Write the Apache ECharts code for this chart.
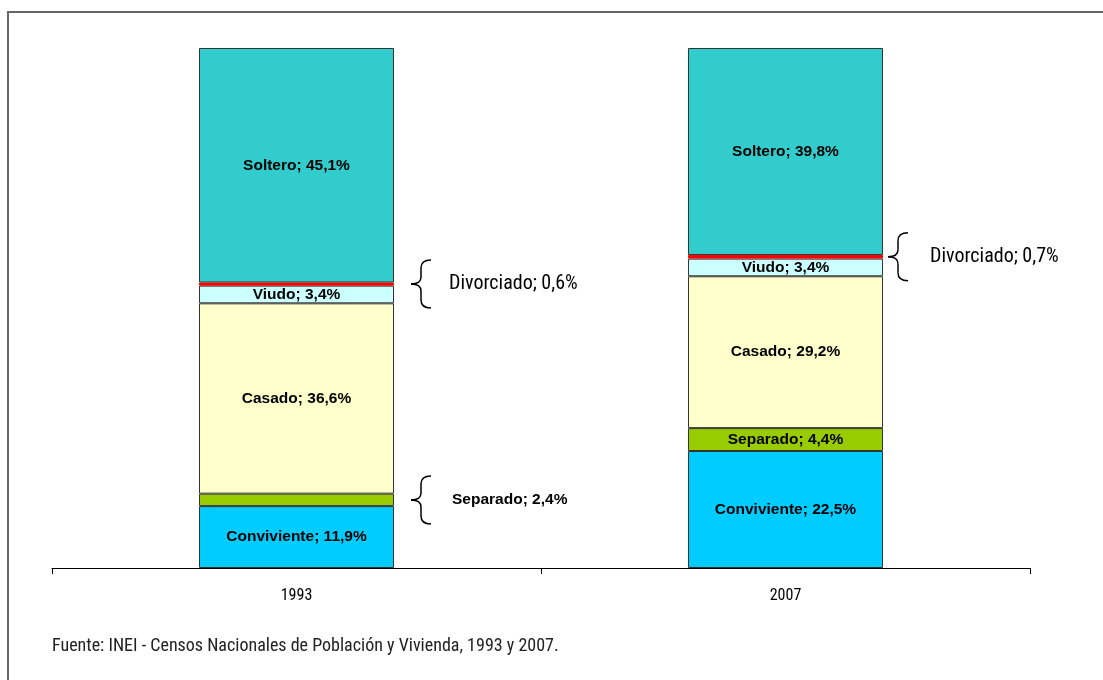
<!DOCTYPE html>
<html>
<head>
<meta charset="utf-8">
<script src="https://cdn.jsdelivr.net/npm/echarts@6/dist/echarts.min.js"></script>
<style>
  html, body { margin: 0; padding: 0; background: #fff; }
  #chart { width: 1103px; height: 680px; }
</style>
</head>
<body>
<div id="chart"></div>
<script>
// years on the x axis
var years = ['1993', '2007'];

// stacked from the bottom up
var conviviente = [11.9, 22.5];
var separado = [2.4, 4.4];
var casado = [36.6, 29.2];
var viudo = [3.4, 3.4];
var divorciado = [0.6, 0.7];
var soltero = [45.1, 39.8];

var sourceNote = 'Fuente: INEI - Censos Nacionales de Población y Vivienda, 1993 y 2007.';

var NARROW = '"Liberation Sans Narrow", "Arial Narrow", "Roboto Condensed", "Liberation Sans", sans-serif';
var BOLD = '"Liberation Sans", Arial, sans-serif';

function fmt(v) {
    return v.toFixed(1).replace('.', ',') + '%';
}

function insideLabel(name) {
    return {
        show: true,
        position: 'inside',
        color: '#000',
        fontFamily: BOLD,
        fontWeight: 'bold',
        fontSize: 15.5,
        formatter: function (p) {
            return name + '; ' + fmt(p.value);
        }
    };
}

function makeSeries(name, values, color, label) {
    return {
        name: name,
        type: 'bar',
        stack: 'total',
        barWidth: 195,
        data: values,
        itemStyle: {
            color: color,
            borderColor: '#333',
            borderWidth: 1
        },
        label: label
    };
}

var chart = echarts.init(document.getElementById('chart'));

// separado 1993 label sits outside the bar, next to a brace
var separadoData = separado.map(function (v, i) {
    if (i === 0) {
        return {
            value: v,
            label: {
                show: true,
                position: 'right',
                distance: 58,
                color: '#000',
                fontFamily: BOLD,
                fontWeight: 'bold',
                fontSize: 15.5,
                formatter: function (p) { return 'Separado; ' + fmt(p.value); }
            }
        };
    }
    return v;
});

var divorciadoData = divorciado.map(function (v, i) {
    return {
        value: v,
        label: {
            show: true,
            position: 'right',
            distance: i === 0 ? 55 : 47,
            color: '#000',
            fontFamily: NARROW,
            fontSize: 20,
            formatter: function (p) { return 'Divorciado; ' + fmt(p.value); }
        }
    };
});

var option = {
    animation: false,
    backgroundColor: '#fff',
    grid: { left: 52, right: 73, top: 48, bottom: 112 },
    xAxis: {
        type: 'category',
        data: years,
        axisLine: { lineStyle: { color: '#000', width: 1 } },
        axisTick: { show: true, length: 6, lineStyle: { color: '#000' } },
        axisLabel: {
            color: '#000',
            fontFamily: NARROW,
            fontSize: 16,
            margin: 20
        }
    },
    yAxis: {
        type: 'value',
        min: 0,
        max: 100,
        show: false
    },
    series: [
        makeSeries('Conviviente', conviviente, '#00CCFF', insideLabel('Conviviente')),
        makeSeries('Separado', separadoData, '#99CC00', insideLabel('Separado')),
        makeSeries('Casado', casado, '#FFFFCC', insideLabel('Casado')),
        makeSeries('Viudo', viudo, '#CCFFFF', insideLabel('Viudo')),
        makeSeries('Divorciado', divorciadoData, '#FF0000', { show: false }),
        makeSeries('Soltero', soltero, '#33CCCC', insideLabel('Soltero'))
    ]
};
// divorciado bars: thin red band
option.series[4].itemStyle.borderColor = '#FF0000';

chart.setOption(option);

// curly brace pointing left, tip at (x0, mid), built from lines and curves
function brace(x0, top, bottom, w) {
    var mid = (top + bottom) / 2;
    var xm = x0 + w * 0.5;
    var x1 = x0 + w;
    var st = { stroke: '#000', lineWidth: 1.5, fill: null };
    return {
        type: 'group',
        children: [
            { type: 'bezierCurve', shape: { x1: x1, y1: top, cpx1: xm, cpy1: top, x2: xm, y2: top + 8 }, style: st },
            { type: 'line', shape: { x1: xm, y1: top + 8, x2: xm, y2: mid - 7 }, style: st },
            { type: 'bezierCurve', shape: { x1: xm, y1: mid - 7, cpx1: xm, cpy1: mid, x2: x0, y2: mid }, style: st },
            { type: 'bezierCurve', shape: { x1: x0, y1: mid, cpx1: xm, cpy1: mid, x2: xm, y2: mid + 7 }, style: st },
            { type: 'line', shape: { x1: xm, y1: mid + 7, x2: xm, y2: bottom - 8 }, style: st },
            { type: 'bezierCurve', shape: { x1: xm, y1: bottom - 8, cpx1: xm, cpy1: bottom, x2: x1, y2: bottom }, style: st }
        ]
    };
}

function cumTo(arrs, i) {
    var s = 0;
    arrs.forEach(function (a) { s += a[i]; });
    return s;
}

function yPix(i, v) {
    return chart.convertToPixel({ gridIndex: 0 }, [i, v])[1];
}

var below = [conviviente, separado, casado, viudo];
var braces = [
    { x: 411, y: yPix(0, cumTo(below, 0) + divorciado[0] / 2), h: 48 },
    { x: 888, y: yPix(1, cumTo(below, 1) + divorciado[1] / 2), h: 48 },
    { x: 411, y: yPix(0, conviviente[0] + separado[0] / 2), h: 48 }
];

var graphics = braces.map(function (b) {
    return brace(b.x, b.y - b.h / 2, b.y + b.h / 2, 20);
});

// outer frame (only left and top edges are visible in the picture)
graphics.push({
    type: 'rect',
    shape: { x: 8, y: 12, width: 1200, height: 800 },
    style: { fill: null, stroke: '#666', lineWidth: 2 },
    z: 10
});
graphics.push({
    type: 'text',
    left: 52,
    top: 637,
    style: {
        text: sourceNote,
        fill: '#222',
        font: '18px ' + NARROW
    }
});

chart.setOption({ graphic: graphics });
</script>
</body>
</html>
